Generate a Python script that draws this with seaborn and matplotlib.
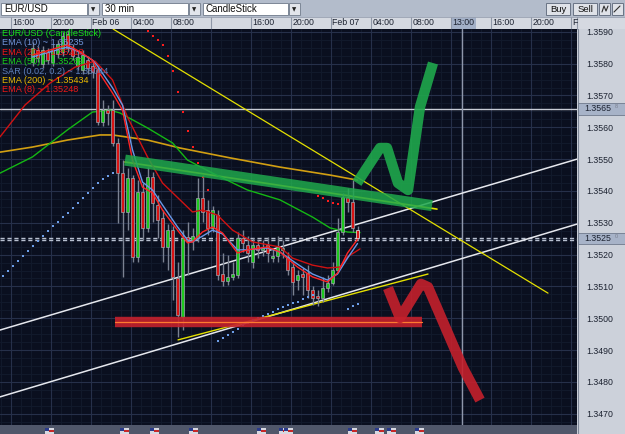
import matplotlib
matplotlib.use("Agg")
import matplotlib.pyplot as plt
import seaborn as sns
import numpy as np
from matplotlib.patches import Rectangle
from matplotlib.transforms import blended_transform_factory

# ---------------- candle data (30-min bars, index = bar number) ----------------
bar_idx = list(range(6, 72))
opens = [1.35805, 1.35843, 1.35799, 1.35837, 1.35805, 1.35830, 1.35837, 1.35893, 1.35849, 1.35793,
         1.35780, 1.35811, 1.35793, 1.35780, 1.35617, 1.35654, 1.35654, 1.35551, 1.35456, 1.35334,
         1.35441, 1.35193, 1.35397, 1.35284, 1.35444, 1.35356, 1.35315, 1.35224, 1.35277, 1.35127,
         1.35004, 1.35255, 1.35246, 1.35252, 1.35378, 1.35340, 1.35284, 1.35324, 1.35139, 1.35117,
         1.35130, 1.35136, 1.35252, 1.35230, 1.35177, 1.35230, 1.35215, 1.35230, 1.35189, 1.35196,
         1.35215, 1.35193, 1.35161, 1.35120, 1.35139, 1.35142, 1.35089, 1.35070, 1.35063, 1.35095,
         1.35111, 1.35152, 1.35271, 1.35381, 1.35365, 1.35277]
highs = [1.35868, 1.35855, 1.35855, 1.35849, 1.35862, 1.35874, 1.35899, 1.35906, 1.35862, 1.35837,
         1.35843, 1.35824, 1.35811, 1.35793, 1.35686, 1.35670, 1.35686, 1.35566, 1.35497, 1.35472,
         1.35450, 1.35434, 1.35425, 1.35475, 1.35460, 1.35387, 1.35340, 1.35296, 1.35290, 1.35177,
         1.35277, 1.35302, 1.35284, 1.35441, 1.35450, 1.35372, 1.35353, 1.35340, 1.35205, 1.35199,
         1.35177, 1.35271, 1.35277, 1.35258, 1.35252, 1.35246, 1.35246, 1.35255, 1.35221, 1.35258,
         1.35246, 1.35208, 1.35177, 1.35152, 1.35158, 1.35167, 1.35101, 1.35089, 1.35130, 1.35136,
         1.35177, 1.35315, 1.35394, 1.35409, 1.35434, 1.35290]
lows = [1.35793, 1.35805, 1.35786, 1.35799, 1.35793, 1.35818, 1.35824, 1.35837, 1.35811, 1.35780,
        1.35767, 1.35767, 1.35755, 1.35607, 1.35604, 1.35607, 1.35541, 1.35299, 1.35130, 1.35277,
        1.35177, 1.35177, 1.35246, 1.35271, 1.35302, 1.35252, 1.35177, 1.35152, 1.35057, 1.34941,
        1.34963, 1.35136, 1.35215, 1.35240, 1.35302, 1.35262, 1.35271, 1.35120, 1.35101, 1.35105,
        1.35120, 1.35127, 1.35208, 1.35177, 1.35158, 1.35189, 1.35196, 1.35177, 1.35177, 1.35177,
        1.35189, 1.35136, 1.35073, 1.35089, 1.35073, 1.35063, 1.35042, 1.35039, 1.35051, 1.35083,
        1.35105, 1.35145, 1.35262, 1.35334, 1.35271, 1.35246]
closes = [1.35849, 1.35818, 1.35843, 1.35811, 1.35843, 1.35862, 1.35887, 1.35849, 1.35824, 1.35821,
          1.35827, 1.35786, 1.35774, 1.35617, 1.35654, 1.35645, 1.35551, 1.35456, 1.35334, 1.35441,
          1.35193, 1.35397, 1.35284, 1.35444, 1.35362, 1.35308, 1.35224, 1.35277, 1.35130, 1.35010,
          1.35252, 1.35243, 1.35258, 1.35378, 1.35334, 1.35284, 1.35340, 1.35136, 1.35117, 1.35130,
          1.35139, 1.35252, 1.35237, 1.35205, 1.35230, 1.35215, 1.35224, 1.35205, 1.35196, 1.35224,
          1.35221, 1.35152, 1.35114, 1.35136, 1.35130, 1.35089, 1.35063, 1.35063, 1.35095, 1.35111,
          1.35152, 1.35271, 1.35381, 1.35365, 1.35284, 1.35252]

# ---------------- indicators ----------------
ema_fast_x = [6, 9.5, 13, 15.5, 18, 19, 22, 24, 26, 28, 30, 32, 35, 37, 38, 40, 42, 44, 47, 49,
              53, 55.5, 59, 62, 65, 67, 69, 71]
ema8_y = [1.35827, 1.35843, 1.35859, 1.35837, 1.35811, 1.35780, 1.35708, 1.35654, 1.35497, 1.35412,
          1.35394, 1.35340, 1.35277, 1.35237, 1.35240, 1.35271, 1.35287, 1.35268, 1.35205, 1.35215,
          1.35224, 1.35208, 1.35161, 1.35130, 1.35114, 1.35142, 1.35205, 1.35248]
ema10_y = [1.35821, 1.35837, 1.35852, 1.35835, 1.35811, 1.35793, 1.35724, 1.35670, 1.35529, 1.35428,
           1.35403, 1.35356, 1.35287, 1.35246, 1.35240, 1.35258, 1.35277, 1.35265, 1.35215, 1.35215,
           1.35221, 1.35208, 1.35170, 1.35139, 1.35120, 1.35139, 1.35189, 1.35235]
ema20_x = [-0.5, 4.5, 9.5, 14.5, 18.5, 22, 25, 29, 32, 35.5, 38, 40, 43, 46, 50, 55.5, 58, 62, 65,
           67.5, 69, 71.5]
ema20_y = [1.35570, 1.35670, 1.35739, 1.35789, 1.35808, 1.35749, 1.35632, 1.35507, 1.35425, 1.35372,
           1.35334, 1.35340, 1.35324, 1.35277, 1.35240, 1.35224, 1.35189, 1.35167, 1.35158, 1.35161,
           1.35193, 1.35218]
ema50_x = [-0.5, 6, 13, 18, 21.5, 23.5, 29, 34, 37, 42, 49, 55.5, 62, 65.5, 69, 71.5]
ema50_y = [1.35456, 1.35507, 1.35592, 1.35648, 1.35654, 1.35645, 1.35598, 1.35551, 1.35497, 1.35456,
           1.35403, 1.35372, 1.35318, 1.35284, 1.35271, 1.35269]
ema200_x = [-0.5, 6, 13, 19.5, 22, 29, 35.5, 45.5, 55.5, 65.5, 71]
ema200_y = [1.35522, 1.35538, 1.35560, 1.35576, 1.35576, 1.35560, 1.35535, 1.35504, 1.35475, 1.35450,
            1.35434]

sar_up1_x = list(range(0, 23))
sar_up1_y = [1.35133, 1.35149, 1.35164, 1.35180, 1.35196, 1.35211, 1.35227, 1.35243, 1.35258, 1.35274,
             1.35290, 1.35302, 1.35318, 1.35331, 1.35346, 1.35362, 1.35378, 1.35394, 1.35409, 1.35425,
             1.35438, 1.35447, 1.35456]
sar_dn1_x = list(range(29, 42))
sar_dn1_y = [1.35903, 1.35887, 1.35874, 1.35859, 1.35824, 1.35777, 1.35711, 1.35648, 1.35588, 1.35538,
             1.35488, 1.35444, 1.35403]
sar_up2_x = list(range(43, 63))
sar_up2_y = [1.34929, 1.34938, 1.34947, 1.34957, 1.34966, 1.34979, 1.34985, 1.34995, 1.35001, 1.35007,
             1.35013, 1.35020, 1.35029, 1.35035, 1.35042, 1.35048, 1.35051, 1.35061, 1.35067, 1.35073]
sar_dn2_x = list(range(63, 68))
sar_dn2_y = [1.35384, 1.35378, 1.35368, 1.35362, 1.35359]
sar_up3_x = [69, 70, 71]
sar_up3_y = [1.35030, 1.35038, 1.35044]

# ---------------- drawn objects (bar index, price) ----------------
yellow_long_x, yellow_long_y = [22.1, 109.1], [1.35909, 1.35079]
yellow_band_x, yellow_band_y = [24.5, 86.9], [1.35491, 1.35343]
yellow_sup_x, yellow_sup_y = [35.1, 85.1], [1.34932, 1.35139]
white_up_x, white_up_y = [-0.5, 114.9], [1.34963, 1.35500]
white_lo_x, white_lo_y = [-0.5, 114.9], [1.34753, 1.35296]
level_line = 1.35658
bid_ask = [1.35253, 1.35245]
green_band_x, green_band_y = [24.5, 85.9], [1.35497, 1.35354]
green_zig_x = [70.9, 75.5, 76.9, 79.1, 81.1, 83.5, 86.1]
green_zig_y = [1.35425, 1.35535, 1.35535, 1.35425, 1.35403, 1.35664, 1.35802]
red_band_x, red_band_y = [22.5, 83.9], [1.34988, 1.34988]
red_zig_x = [77.1, 79.5, 83.7, 85.1, 90.1, 92.1, 95.5]
red_zig_y = [1.35095, 1.35001, 1.35108, 1.35098, 1.34916, 1.34844, 1.34743]

price_ticks = [1.3470, 1.3480, 1.3490, 1.3500, 1.3510, 1.3520, 1.3530, 1.3540, 1.3550, 1.3560,
               1.3570, 1.3580, 1.3590]
time_labels = ["16:00", "20:00", "Feb 06", "04:00", "08:00", "12:00", "16:00", "20:00", "Feb 07",
               "04:00", "08:00", "13:00", "16:00", "20:00", "F"]
legend_rows = [("EUR/USD (CandleStick)", "#19e019"), ("EMA (10) ~ 1.35235", "#6f93d8"),
               ("EMA (20) ~ 1.35218", "#f01818"), ("EMA (50) ~ 1.35269", "#19d019"),
               ("SAR (0.02, 0.2) ~ 1.35044", "#5d7fba"), ("EMA (200) ~ 1.35434", "#e8b800"),
               ("EMA (8) ~ 1.35248", "#f01818")]

# ---------------- style ----------------
sns.set_style("dark", {"axes.facecolor": "#0a0f1f", "axes.edgecolor": "#0a0f1f"})
plt.rcParams['font.family'] = ['Liberation Sans', 'DejaVu Sans']

W, H = 625, 434
fig = plt.figure(figsize=(W / 100, H / 100), dpi=100)
fig.patch.set_facecolor("#b3bccb")

bg = fig.add_axes([0, 0, 1, 1], zorder=0)
bg.set_xlim(0, W)
bg.set_ylim(H, 0)
bg.axis("off")

# toolbar
bg.add_patch(Rectangle((0, 0), W, 17, fc="#b3bccb", ec="none"))
for x0, w, txt in [(1, 86, "EUR/USD"), (102, 86, "30 min"), (203, 85, "CandleStick")]:
    bg.add_patch(Rectangle((x0, 2.5), w, 12.5, fc="white", ec="#7d8796", lw=0.7))
    bg.add_patch(Rectangle((x0 + w + 1, 2.5), 11, 12.5, fc="#e2e5eb", ec="#7d8796", lw=0.7))
    bg.text(x0 + 3, 9, txt, fontsize=7, va="center", ha="left", color="#101010")
    bg.text(x0 + w + 6.5, 9.3, "\u25bc", fontsize=4, va="center", ha="center", color="#202020",
            family="DejaVu Sans")
for x0, w, txt in [(546, 24, "Buy"), (573, 24, "Sell"), (599, 11, ""), (612, 11, "")]:
    bg.add_patch(Rectangle((x0, 2.5), w, 12.5, fc="#dfe2e8", ec="#6a7485", lw=0.7))
    if txt:
        bg.text(x0 + w / 2, 9, txt, fontsize=6.8, va="center", ha="center", color="#101010")
bg.plot([602, 604, 606, 608], [12, 6, 11, 6], color="#303030", lw=0.8)
bg.plot([614, 620], [12, 6], color="#303030", lw=0.8)

# time header
bg.add_patch(Rectangle((0, 17), W, 12, fc="#d5d9e1", ec="none"))
bg.add_patch(Rectangle((451, 17), 25, 12, fc="#a3b0c7", ec="none"))
for n in range(15):
    xs = 10.5 + 40 * n
    bg.plot([xs, xs], [17, 29], color="#8f98a8", lw=0.8)
bg.plot([0, W], [17, 17], color="#98a0b0", lw=0.6)
bg.plot([577, 577], [17, 29], color="#8f98a8", lw=0.8)

# price panel and bottom strip
bg.add_patch(Rectangle((577, 29), 48, H - 29, fc="#ccd1da", ec="none"))
bg.plot([577.5, 577.5], [29, H], color="#7f8899", lw=0.8)
bg.add_patch(Rectangle((0, 425), 577, 9, fc="#50576a", ec="none"))
for fx in [45, 120, 150, 189, 257, 279, 284, 348, 375, 387, 415]:
    bg.add_patch(Rectangle((fx, 427.5), 9, 6, fc="#d8d8e0", ec="none"))
    bg.add_patch(Rectangle((fx, 427.5), 4, 3, fc="#2a3a8a", ec="none"))
    bg.add_patch(Rectangle((fx + 4, 429.5), 5, 2, fc="#c82828", ec="none"))

# ---------------- main chart ----------------
ax = fig.add_axes([0, 9 / H, 577 / W, 396 / H], zorder=1)
ax.set_facecolor("#0a0f1f")
ax.set_xlim(-0.5, 114.9)
ax.set_ylim(1.3466465, 1.359089)

# grid mesh
for k in np.arange(-0.4, 115, 2):
    ax.axvline(k, color="#121a2c", lw=0.7, zorder=0)
for p in np.arange(1.34675, 1.3591, 0.00025):
    ax.axhline(p, color="#121a2c", lw=0.7, zorder=0)
for n in range(15):
    ax.axvline(1.6 + 8 * n, color="#26304a", lw=0.8, zorder=0)
for p in price_ticks:
    ax.axhline(p, color="#26304a", lw=0.8, zorder=0)

# levels, crosshair, trend lines
ax.axhline(level_line, color="#c8ccd6", lw=1.0, zorder=1)
for p in bid_ask:
    ax.axhline(p, color="#b8c0d0", lw=1.0, ls=(0, (3, 2)), zorder=1)
ax.axvline(91.9, color="#8f97ab", lw=1.0, zorder=1)
sns.lineplot(x=white_up_x, y=white_up_y, ax=ax, color="#e6e8ee", lw=1.1, zorder=2)
sns.lineplot(x=white_lo_x, y=white_lo_y, ax=ax, color="#e6e8ee", lw=1.1, zorder=2)
sns.lineplot(x=yellow_long_x, y=yellow_long_y, ax=ax, color="#e4e000", lw=0.9, zorder=2)
sns.lineplot(x=yellow_band_x, y=yellow_band_y, ax=ax, color="#e4e000", lw=1.2, zorder=2)
sns.lineplot(x=yellow_sup_x, y=yellow_sup_y, ax=ax, color="#e4e000", lw=1.0, zorder=2)

# moving averages
sns.lineplot(x=ema200_x, y=ema200_y, ax=ax, color="#d29f12", lw=1.2, zorder=3)
sns.lineplot(x=ema50_x, y=ema50_y, ax=ax, color="#14b814", lw=1.0, zorder=3)

# candles
for k, o, h, l, c in zip(bar_idx, opens, highs, lows, closes):
    ax.vlines(k, l, h, color="#7b8292", lw=1.0, zorder=4)
bull = [c >= o for o, c in zip(opens, closes)]
bottoms = [min(o, c) for o, c in zip(opens, closes)]
heights = [max(abs(c - o), 0.00004) for o, c in zip(opens, closes)]
cols = ["#1ec81e" if b else "#d81414" for b in bull]
edges = ["#9ea4ae"] * (len(bar_idx) - 1) + ["#f0f0f0"]
ax.bar(bar_idx, heights, bottom=bottoms, width=0.7, color=cols, edgecolor=edges, linewidth=0.5,
       zorder=5)

sns.lineplot(x=ema20_x, y=ema20_y, ax=ax, color="#d01212", lw=1.0, zorder=6)
sns.lineplot(x=ema_fast_x, y=ema10_y, ax=ax, color="#6a98e6", lw=1.0, zorder=6)
sns.lineplot(x=ema_fast_x, y=ema8_y, ax=ax, color="#ff2424", lw=1.0, zorder=6)

# parabolic SAR
for xs, ys, col in [(sar_up1_x, sar_up1_y, "#6d9ee8"), (sar_dn1_x, sar_dn1_y, "#ff1c1c"),
                    (sar_up2_x, sar_up2_y, "#6d9ee8"), (sar_dn2_x, sar_dn2_y, "#ff1c1c"),
                    (sar_up3_x, sar_up3_y, "#6d9ee8")]:
    sns.scatterplot(x=xs, y=ys, ax=ax, color=col, marker="s", s=3.5, linewidth=0, zorder=7)

# hand-drawn brush annotations
ax.plot(green_band_x, green_band_y, color="#1fa84c", alpha=0.85, lw=8.0, solid_capstyle="butt",
        zorder=8)
ax.plot(green_zig_x, green_zig_y, color="#1fa84c", alpha=0.9, lw=7.5, solid_capstyle="butt",
        solid_joinstyle="round", zorder=8)
ax.plot(red_band_x, red_band_y, color="#c4202c", alpha=0.9, lw=7.5, solid_capstyle="butt", zorder=8)
ax.plot(red_band_x, red_band_y, color="#ff7a30", lw=0.9, zorder=8)
ax.plot(red_zig_x, red_zig_y, color="#c4202c", alpha=0.9, lw=7.5, solid_capstyle="butt",
        solid_joinstyle="round", zorder=8)

# legend text (top-left of the chart)
for i, (txt, col) in enumerate(legend_rows):
    ax.text(2 / 577, 1 - (4.5 + 9.4 * i) / 396, txt, transform=ax.transAxes, fontsize=6.6,
            color=col, va="center", ha="left", zorder=20)

# axes ticks
ax.yaxis.tick_right()
ax.set_yticks(price_ticks, [f"{p:.4f}" for p in price_ticks])
ax.tick_params(axis="y", length=0, pad=7.0, labelsize=6.3, labelcolor="#1c2230")
ax.xaxis.tick_top()
ax.set_xticks([2 + 8 * n for n in range(len(time_labels))], time_labels)
ax.tick_params(axis="x", length=0, pad=1.5, labelsize=6.3, labelcolor="#1c2230")
for lab in ax.get_xticklabels():
    lab.set_horizontalalignment("left")
ax.set_xlabel("")
ax.set_ylabel("")
ax.grid(False)
for s in ax.spines.values():
    s.set_visible(False)
ax.get_xticklabels()[5].set_visible(False)

# price flags on the scale
trans = blended_transform_factory(ax.transAxes, ax.transData)
for p, main, sup in [(level_line, "1.3565", "8"), (1.35250, "1.3525", "0")]:
    ax.add_patch(Rectangle((1.001, p - 0.00018), 48 / 577, 0.00036, transform=trans, clip_on=False,
                           fc="#a7b3c8", ec="#6f7a8c", lw=0.6, zorder=9))
    ax.text(1.0 + 7 / 577, p, main, transform=trans, fontsize=6.3, va="center", ha="left",
            color="#1c2230", clip_on=False, zorder=10)
    ax.text(1.0 + 38 / 577, p + 0.00006, sup, transform=trans, fontsize=4.0, va="center",
            ha="left", color="#7a8090", clip_on=False, zorder=10)

fig.savefig("out.png", dpi=100, facecolor=fig.get_facecolor())
